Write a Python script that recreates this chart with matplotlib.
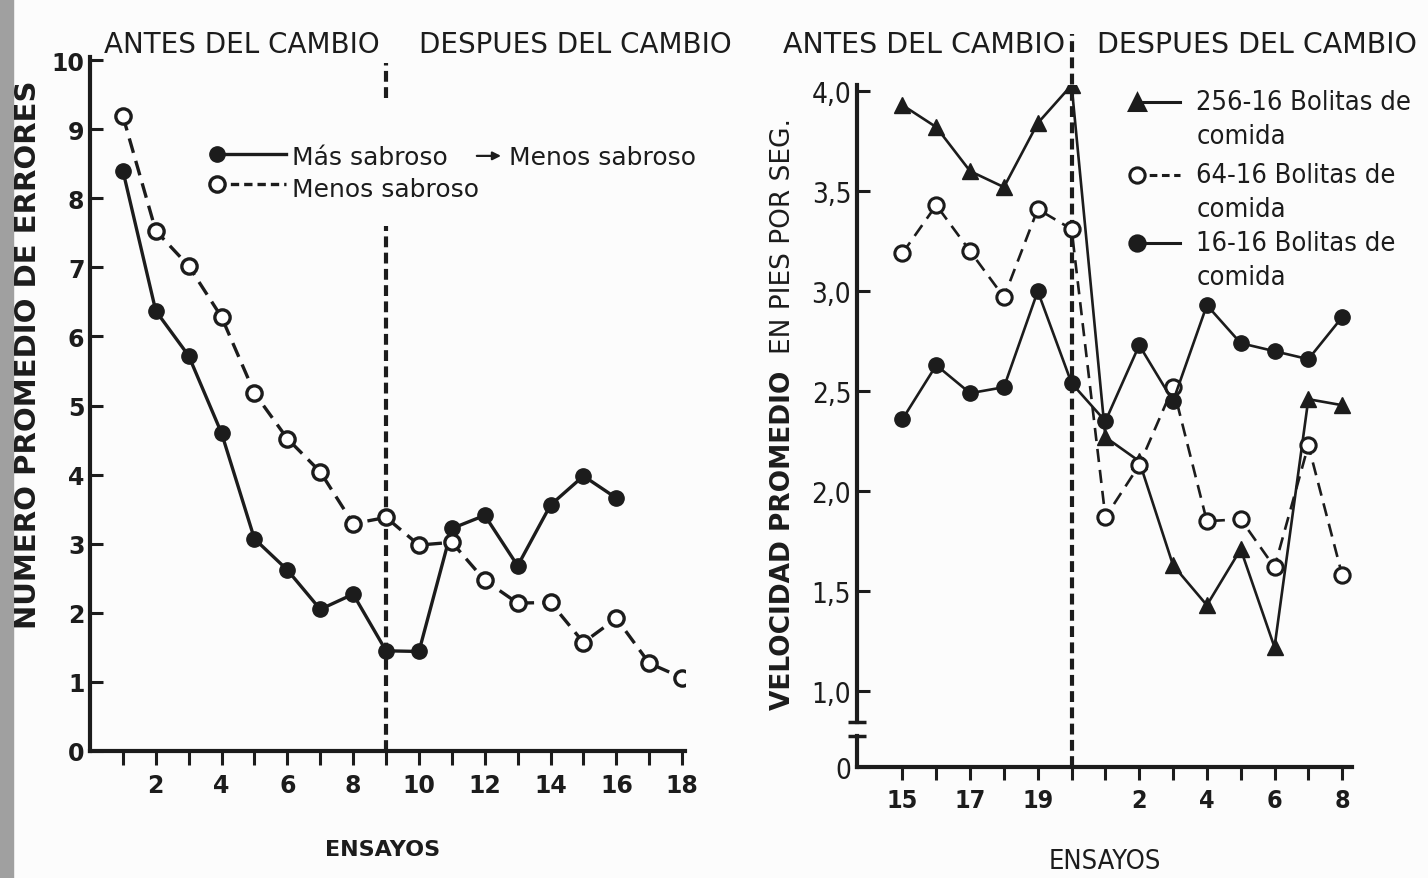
import numpy as np
import matplotlib.pyplot as plt
from matplotlib.patches import Rectangle

# panel izquierdo: numero promedio de errores por ensayo
ensayos_izq = np.arange(1, 19)
mas_sabroso = [8.4, 6.37, 5.72, 4.6, 3.07, 2.62, 2.05, 2.27, 1.45,
               1.44, 3.22, 3.41, 2.68, 3.56, 3.98, 3.66]
menos_sabroso = [9.19, 7.53, 7.02, 6.28, 5.18, 4.52, 4.04, 3.29, 3.38,
                 2.98, 3.02, 2.47, 2.14, 2.15, 1.57, 1.92, 1.27, 1.06]
cambio_izq = 9
ticks_y_izq = list(range(0, 11))

# panel derecho: velocidad promedio (pies por seg.)
ensayos_der = ['15', '16', '17', '18', '19', '20',
               '1', '2', '3', '4', '5', '6', '7', '8']
etiquetas_der = ['15', '17', '19', '2', '4', '6', '8']
vel_256 = [3.93, 3.82, 3.6, 3.52, 3.84, 4.03,
           2.27, 2.15, 1.63, 1.43, 1.71, 1.22, 2.46, 2.43]
vel_64 = [3.19, 3.43, 3.2, 2.97, 3.41, 3.31,
          1.87, 2.13, 2.52, 1.85, 1.86, 1.62, 2.23, 1.58]
vel_16 = [2.36, 2.63, 2.49, 2.52, 3.0, 2.54,
          2.35, 2.73, 2.45, 2.93, 2.74, 2.70, 2.66, 2.87]
cambio_der = '20'
ticks_y_der = [1.0, 1.5, 2.0, 2.5, 3.0, 3.5, 4.0]
cero_der = 0.62      # donde se dibuja el "0" bajo el corte del eje

INK = '#1c1c1c'
NARROW = dict(family='DejaVu Sans', stretch='condensed')

fig = plt.figure(figsize=(14.28, 8.79), dpi=100)
fig.patch.set_facecolor('#fcfcfc')
fig.patches.append(Rectangle((0, 0), 0.009, 1, transform=fig.transFigure,
                             color='#a0a0a0', zorder=0))

# ---------------- izquierda
ax1 = fig.add_axes([0.063, 0.1445, 0.417, 0.79])
ax1.set_facecolor('none')
ax1.plot(ensayos_izq[:len(mas_sabroso)], mas_sabroso, '-o', color=INK,
         lw=2.4, ms=11, zorder=3)
ax1.plot(ensayos_izq, menos_sabroso, color=INK, ls=(0, (4.5, 2.5)), lw=2.4,
         marker='o', ms=11, mfc='white', mec=INK, mew=2.4, zorder=3)
ax1.axvline(cambio_izq, 0, 7.6 / 10.05, color=INK, lw=3, ls=(0, (2.6, 1.3)), zorder=2)
ax1.axvline(cambio_izq, 9.45 / 10.05, 9.95 / 10.05, color=INK, lw=3,
            ls=(0, (2.6, 1.3)), zorder=2)

ax1.set_xlim(0, 18.1)
ax1.set_ylim(0, 10.05)
ax1.set_xticks(ensayos_izq)
ax1.set_xticklabels([str(e) if e % 2 == 0 else '' for e in ensayos_izq])
ax1.set_yticks(ticks_y_izq)
for s in ['top', 'right']:
    ax1.spines[s].set_visible(False)
for s in ['left', 'bottom']:
    ax1.spines[s].set_linewidth(3)
    ax1.spines[s].set_color(INK)
ax1.tick_params(axis='x', direction='out', length=10, width=2.2, pad=6,
                labelsize=17, colors=INK)
ax1.tick_params(axis='y', direction='in', length=9, width=2.2, pad=4,
                labelsize=17, colors=INK)
for lab in ax1.get_xticklabels() + ax1.get_yticklabels():
    lab.set_fontweight('bold')

# leyenda izquierda
ax1.plot([0.213, 0.33], [0.859, 0.859], transform=ax1.transAxes, color=INK,
         lw=2.4, marker='o', ms=11, markevery=[0], clip_on=False)
ax1.plot([0.213, 0.33], [0.816, 0.816], transform=ax1.transAxes, color=INK,
         lw=2.4, ls=(0, (2.5, 1.5)), marker='o', ms=11, mfc='white', mew=2.4,
         markevery=[0], clip_on=False)
ax1.text(0.339, 0.856, 'Más sabroso', transform=ax1.transAxes, fontsize=18,
         va='center', color=INK)
ax1.annotate('', xy=(0.695, 0.857), xytext=(0.645, 0.857), xycoords='axes fraction',
             arrowprops=dict(arrowstyle='-|>', color=INK, lw=1.6, mutation_scale=12))
ax1.text(0.704, 0.856, 'Menos sabroso', transform=ax1.transAxes, fontsize=18,
         va='center', color=INK)
ax1.text(0.339, 0.809, 'Menos sabroso', transform=ax1.transAxes, fontsize=18,
         va='center', color=INK)

fig.text(0.169, 0.949, 'ANTES DEL CAMBIO', fontsize=20, ha='center', va='center', color=INK)
fig.text(0.403, 0.949, 'DESPUES DEL CAMBIO', fontsize=20, ha='center', va='center', color=INK)
fig.text(0.0196, 0.596, 'NUMERO PROMEDIO DE ERRORES', rotation=90, fontsize=21,
         fontweight='bold', ha='center', va='center', color=INK)
fig.text(0.268, 0.033, 'ENSAYOS', fontsize=16, fontweight='bold', ha='center',
         va='center', color=INK)

# ---------------- derecha
ax2 = fig.add_axes([0.600, 0.126, 0.347, 0.776])
ax2.set_facecolor('none')
pos = np.arange(len(ensayos_der))
ax2.plot(pos, vel_256, '-^', color=INK, lw=1.9, ms=12, zorder=3)
ax2.plot(pos, vel_64, color=INK, ls=(0, (5, 3)), lw=1.9, marker='o', ms=11,
         mfc='white', mec=INK, mew=2.2, zorder=3)
ax2.plot(pos, vel_16, '-o', color=INK, lw=1.9, ms=11, zorder=3)
ax2.axvline(ensayos_der.index(cambio_der), 0, 1.075, color=INK, lw=3,
            ls=(0, (2.6, 1.3)), clip_on=False, zorder=2)

ax2.set_xlim(-1.35, 13.3)
ax2.set_ylim(cero_der, 4.03)
ax2.set_xticks(pos)
ax2.set_xticklabels([e if e in etiquetas_der else '' for e in ensayos_der])
ax2.set_yticks([cero_der] + ticks_y_der)
ax2.set_yticklabels(['0'] + [f'{v:.1f}'.replace('.', ',') for v in ticks_y_der])
for s in ['top', 'right']:
    ax2.spines[s].set_visible(False)
for s in ['left', 'bottom']:
    ax2.spines[s].set_linewidth(3)
    ax2.spines[s].set_color(INK)
ax2.spines['left'].set_bounds(0.845, 4.03)
# corte del eje y
ax2.plot([-1.35, -1.35], [cero_der, 0.775], color=INK, lw=3, clip_on=False)
ax2.plot([-1.35, -1.35], [0.775, 0.845], ls='none', marker='_', ms=13, mew=2.5,
         color=INK, clip_on=False)
ax2.tick_params(axis='x', direction='out', length=9, width=2.2, pad=6,
                labelsize=18, colors=INK)
ax2.tick_params(axis='y', direction='in', length=9, width=2.2, pad=4,
                labelsize=20, colors=INK)
for lab in ax2.get_xticklabels():
    lab.set_stretch('condensed')
    lab.set_fontweight('bold')
for lab in ax2.get_yticklabels():
    lab.set_stretch('condensed')

# leyenda derecha
filas = [(0.975, '256-16 Bolitas de', dict(marker='^', ls='-', mfc=INK)),
         (0.868, '64-16 Bolitas de', dict(marker='o', ls=(0, (2.5, 1.5)), mfc='white')),
         (0.768, '16-16 Bolitas de', dict(marker='o', ls='-', mfc=INK))]
for y, txt, st in filas:
    ax2.plot([0.565, 0.652], [y, y], transform=ax2.transAxes, color=INK, lw=2.2,
             ms=11, mec=INK, mew=2.2, markevery=[0], clip_on=False, **st)
    ax2.text(0.685, y, txt, transform=ax2.transAxes, fontsize=19.5,
             va='center', color=INK, **NARROW)
    ax2.text(0.685, y - 0.05, 'comida', transform=ax2.transAxes, fontsize=19.5,
             va='center', color=INK, **NARROW)

fig.text(0.647, 0.949, 'ANTES DEL CAMBIO', fontsize=20.5, ha='center', va='center', color=INK)
fig.text(0.880, 0.949, 'DESPUES DEL CAMBIO', fontsize=20.5,
         ha='center', va='center', color=INK)
fig.text(0.548, 0.192, 'VELOCIDAD PROMEDIO', rotation=90, fontsize=19,
         fontweight='bold', ha='center', va='bottom', color=INK)
fig.text(0.548, 0.866, 'EN PIES POR SEG.', rotation=90, fontsize=19,
         ha='center', va='top', color=INK)
fig.text(0.774, 0.019, 'ENSAYOS', fontsize=19.5, ha='center',
         va='center', color=INK, **NARROW)

fig.savefig('out.png', dpi=100, facecolor=fig.get_facecolor())
